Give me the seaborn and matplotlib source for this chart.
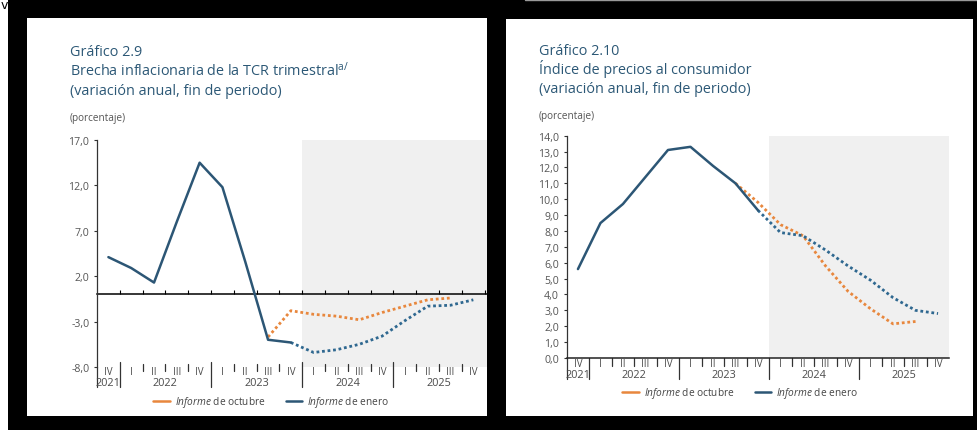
import matplotlib
matplotlib.use("Agg")
import numpy as np
import pandas as pd
import matplotlib.pyplot as plt
import matplotlib.transforms as mtransforms
from matplotlib.lines import Line2D
from matplotlib.patches import Rectangle
from matplotlib.ticker import FixedLocator, FuncFormatter, NullFormatter
import seaborn as sns

# ---------------------------------------------------------------- data
quarters = ["IV", "I", "II", "III", "IV", "I", "II", "III", "IV",
            "I", "II", "III", "IV", "I", "II", "III", "IV"]
years = ["2021", "2022", "2023", "2024", "2025"]
quarters_per_year = [1, 4, 4, 4, 4]

# Grafico 2.9 - brecha inflacionaria de la TCR trimestral
tcr_obs_pos = list(range(0, 9))
tcr_obs = [4.1, 2.9, 1.3, 8.0, 14.5, 11.8, 3.6, -5.0, -5.3]
tcr_enero_pos = list(range(8, 17))
tcr_enero = [-5.3, -6.4, -6.1, -5.5, -4.6, -2.9, -1.3, -1.2, -0.6]
tcr_octubre_pos = list(range(7, 16))
tcr_octubre = [-4.7, -1.8, -2.2, -2.4, -2.8, -2.0, -1.3, -0.6, -0.4]
tcr_yticks = [17.0, 12.0, 7.0, 2.0, -3.0, -8.0]

# Grafico 2.10 - indice de precios al consumidor
ipc_obs_pos = list(range(0, 9))
ipc_obs = [5.6, 8.5, 9.7, 11.4, 13.1, 13.3, 12.1, 11.0, 9.3]
ipc_enero_pos = list(range(8, 17))
ipc_enero = [9.3, 7.9, 7.7, 6.8, 5.8, 4.9, 3.8, 3.0, 2.8]
ipc_octubre_pos = list(range(7, 16))
ipc_octubre = [11.0, 9.8, 8.4, 7.7, 5.8, 4.2, 3.1, 2.15, 2.3]
ipc_yticks = [float(v) for v in range(0, 15)]

# ---------------------------------------------------------------- style
sns.set_theme(style="white")
FONT = "Open Sans"
plt.rcParams["font.family"] = [FONT, "DejaVu Sans"]
plt.rcParams["mathtext.fontset"] = "custom"
plt.rcParams["mathtext.rm"] = FONT
plt.rcParams["mathtext.it"] = FONT + ":italic"

ORANGE = "#e8873d"
BLUE = "#2c5675"
BLUE_DOT = "#2f6890"
SHADE = "#f0f0f0"
TITLE_C = "#2c5876"
TEXT_C = "#4a4a4a"
DOTS = (0, (1.0, 1.0))

W, H = 977, 431
fig = plt.figure(figsize=(W / 100, H / 100), dpi=100, facecolor="black")


def fx(px):
    return px / W


def fy(py):
    return 1 - py / H


def frect(x0, y0, x1, y1, color):
    fig.patches.append(Rectangle((fx(x0), fy(y1)), fx(x1) - fx(x0), fy(y0) - fy(y1),
                                 transform=fig.transFigure, facecolor=color,
                                 edgecolor="none", zorder=-5))


# page background pieces
frect(0, 0, 8, 431, "white")
frect(27, 19, 487, 417, "white")
frect(506, 20, 973, 417, "white")
fig.lines.append(Line2D([fx(525), fx(977)], [fy(0.6), fy(0.6)], transform=fig.transFigure,
                        color="#9a9a9a", lw=1.0, zorder=-4))
fig.text(fx(0.5), fy(9), "v", color="black", fontsize=9, ha="left", va="baseline",
         family="DejaVu Sans", zorder=-3)


def fmt(v, _):
    return f"{v:.1f}".replace(".", ",")


def series(ax, pos, vals, color, dotted, lw):
    df = pd.DataFrame({"trimestre": pos, "valor": vals})
    kw = dict(linestyle=DOTS, dash_capstyle="butt") if dotted else dict(linestyle="-")
    sns.lineplot(data=df, x="trimestre", y="valor", ax=ax, color=color, lw=lw,
                 legend=False, sort=False, **kw)


def quarter_axis(ax, y_q, y_y, q_sep, y_sep, spine_bottom):
    """Quarter and year labels beneath the plot (y in pixels)."""
    tr = mtransforms.blended_transform_factory(ax.transData, fig.transFigure)
    for i, q in enumerate(quarters):
        ax.text(i, fy(y_q), q, transform=tr, ha="center", va="center",
                fontsize=7.0, color=TEXT_C, clip_on=False)
    start = 0
    bounds = []
    for yr, n in zip(years, quarters_per_year):
        centre = start + (n - 1) / 2
        ax.text(centre, fy(y_y), yr, transform=tr, ha="center", va="center",
                fontsize=7.8, color=TEXT_C, clip_on=False)
        start += n
        bounds.append(start - 0.5)
    year_bounds = set(bounds[:-1])
    for k in range(len(quarters) - 1):
        b = k + 0.5
        if b in year_bounds:
            y0, y1 = y_sep
        else:
            y0, y1 = q_sep
        ax.add_line(Line2D([b, b], [fy(y0), fy(y1)], transform=tr, color="#333333",
                           lw=0.9, clip_on=False))
    # left spine continues down past the labels
    ax.add_line(Line2D([-0.5, -0.5], [fy(spine_bottom[0]), fy(spine_bottom[1])],
                       transform=tr, color="#333333", lw=0.9, clip_on=False))


def style_axes(ax, yticks, ylim, xlim):
    ax.set_facecolor("white")
    ax.set_xlim(*xlim)
    ax.set_ylim(*ylim)
    ax.set_xlabel("")
    ax.set_ylabel("")
    for s in ("top", "right"):
        ax.spines[s].set_visible(False)
    ax.spines["left"].set_color("#333333")
    ax.spines["left"].set_linewidth(0.9)
    ax.yaxis.set_major_locator(FixedLocator(yticks))
    ax.yaxis.set_major_formatter(FuncFormatter(fmt))
    ax.tick_params(axis="y", direction="out", length=2.5, width=0.8, pad=3,
                   labelsize=7.6, labelcolor="#555555", color="#333333", left=True)


# ---------------------------------------------------------------- left chart
axL = fig.add_axes([fx(97), fy(368), fx(487) - fx(97), fy(141) - fy(368)])
xlimL = (-0.5, 16.6)
axL.axvspan(8.5, xlimL[1], color=SHADE, lw=0, zorder=0)
series(axL, tcr_octubre_pos, tcr_octubre, ORANGE, True, 2.0)
series(axL, tcr_enero_pos, tcr_enero, BLUE_DOT, True, 2.0)
series(axL, tcr_obs_pos, tcr_obs, BLUE, False, 1.8)
style_axes(axL, tcr_yticks, (-8, 17), xlimL)
axL.spines["bottom"].set_position(("data", 0))
axL.spines["bottom"].set_color("black")
axL.spines["bottom"].set_linewidth(1.1)
axL.spines["bottom"].set_zorder(1.5)
axL.xaxis.set_major_locator(FixedLocator(np.arange(0.5, 17, 1.0)))
axL.xaxis.set_major_formatter(NullFormatter())
axL.tick_params(axis="x", direction="in", length=3, width=0.8, color="black", bottom=True)
quarter_axis(axL, y_q=373, y_y=383.5, q_sep=(364.5, 372), y_sep=(363, 388),
             spine_bottom=(368, 388))

# ---------------------------------------------------------------- right chart
axR = fig.add_axes([fx(566.7), fy(359), fx(949.3) - fx(566.7), fy(136.7) - fy(359)])
xlimR = (-0.5, 16.5)
axR.axvspan(8.5, xlimR[1], color=SHADE, lw=0, zorder=0)
series(axR, ipc_octubre_pos, ipc_octubre, ORANGE, True, 2.0)
series(axR, ipc_enero_pos, ipc_enero, BLUE_DOT, True, 2.0)
series(axR, ipc_obs_pos, ipc_obs, BLUE, False, 1.8)
style_axes(axR, ipc_yticks, (0, 14), xlimR)
axR.spines["bottom"].set_color("#222222")
axR.spines["bottom"].set_linewidth(1.1)
axR.set_xticks([])
quarter_axis(axR, y_q=365, y_y=376, q_sep=(359, 367), y_sep=(359, 380),
             spine_bottom=(359, 380))

# ---------------------------------------------------------------- titles
def titles(x, ys, lines):
    for (yb, txt, size, col) in zip(ys, lines, [10.4, 10.4, 10.4, 7.2],
                                    [TITLE_C, TITLE_C, TITLE_C, "#555555"]):
        fig.text(fx(x), fy(yb), txt, fontsize=size, color=col, ha="left", va="baseline")


titles(70, [56.5, 76, 95, 121.5],
       ["Gráfico 2.9",
        "Brecha inflacionaria de la TCR trimestral$^{\\mathrm{a/}}$",
        "(variación anual, fin de periodo)",
        "(porcentaje)"])
titles(539, [55, 74, 93, 119],
       ["Gráfico 2.10",
        "Índice de precios al consumidor",
        "(variación anual, fin de periodo)",
        "(porcentaje)"])

# ---------------------------------------------------------------- legends
handles = [Line2D([], [], color=ORANGE, lw=1.8), Line2D([], [], color=BLUE, lw=1.8)]
labels = [r"$\it{Informe}$ de octubre", r"$\it{Informe}$ de enero"]
for cx, cy in [(271, 403), (740, 394)]:
    fig.legend(handles, labels, loc="center", bbox_to_anchor=(fx(cx), fy(cy)),
               ncol=2, frameon=False, fontsize=7.3, handlelength=1.6,
               handletextpad=0.5, columnspacing=2.0, labelcolor="#444444",
               borderaxespad=0, borderpad=0)

fig.savefig("out.png", dpi=100, facecolor="black")
